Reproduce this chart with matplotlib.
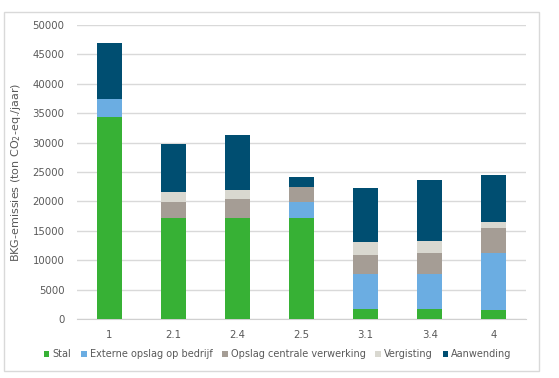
import numpy as np
import matplotlib.pyplot as plt
from matplotlib.patches import FancyBboxPatch

categories = ['1', '2.1', '2.4', '2.5', '3.1', '3.4', '4']
stal = [34300, 17200, 17200, 17200, 1700, 1700, 1500]
externe = [3200, 0, 0, 2700, 5900, 5900, 9700]
opslag = [0, 2700, 3150, 2550, 3300, 3650, 4200]
vergisting = [0, 1650, 1650, 0, 2150, 2100, 1150]
aanwending = [9450, 8250, 9300, 1750, 9200, 10350, 7950]

series = [
    ('Stal', stal, '#37b135'),
    ('Externe opslag op bedrijf', externe, '#6badE2'),
    ('Opslag centrale verwerking', opslag, '#a59d95'),
    ('Vergisting', vergisting, '#d9d8d0'),
    ('Aanwending', aanwending, '#004e71'),
]

plt.rcParams['font.family'] = ['DejaVu Sans']
grey = '#595959'

fig = plt.figure(figsize=(5.59, 3.78), dpi=100)
ax = fig.add_axes([77/559, 1-319/378, 449/559, 294/378])

# lichte rand rond de hele grafiek
fig.patches.append(FancyBboxPatch((4/559, 1-371/378), 535/559, 359/378,
                                  boxstyle='square,pad=0', transform=fig.transFigure,
                                  fill=False, edgecolor='#d9d9d9', linewidth=1.0))

x = np.arange(len(categories))
bottom = np.zeros(len(categories))
for name, vals, col in series:
    ax.bar(x, vals, 0.39, bottom=bottom, color=col, label=name, zorder=3)
    bottom += np.array(vals)

ax.set_xlim(-0.5, len(categories) - 0.5)
ax.set_ylim(0, 50000)
ax.set_yticks(np.arange(0, 50001, 5000))
ax.set_xticks(x)
ax.set_xticklabels(categories)
ax.grid(axis='y', color='#d9d9d9', linewidth=1.0, zorder=0)
for s in ['top', 'right', 'left']:
    ax.spines[s].set_visible(False)
ax.spines['bottom'].set_color('#d0d0d0')
ax.tick_params(length=0, colors=grey, labelsize=7.3)
ax.tick_params(axis='y', pad=9)
ax.tick_params(axis='x', pad=8)
ax.set_ylabel('BKG-emissies (ton CO$_2$-eq./jaar)', color=grey, fontsize=8, labelpad=7)

leg = ax.legend(loc='upper left', bbox_to_anchor=(-0.083, -0.09), ncol=5, frameon=False,
                fontsize=7, handlelength=0.6, handleheight=0.6, handletextpad=0.3,
                columnspacing=1.0, borderaxespad=0)
for t in leg.get_texts():
    t.set_color(grey)

fig.savefig('out.png', dpi=100)
